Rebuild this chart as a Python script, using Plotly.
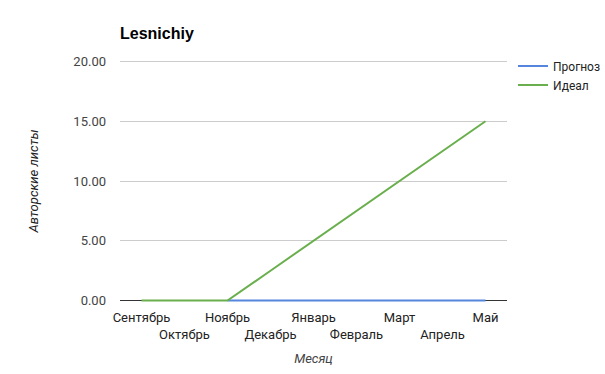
import plotly.graph_objects as go

months = ["Сентябрь", "Октябрь", "Ноябрь", "Декабрь", "Январь", "Февраль", "Март", "Апрель", "Май"]
prognoz = [None, None, 0, 0, 0, 0, 0, 0, 0]
ideal = [0, 0, 0, 2.5, 5, 7.5, 10, 12.5, 15]
y_ticks = [0, 5, 10, 15, 20]

tick_text = [m if i % 2 == 0 else "<br>" + m for i, m in enumerate(months)]

W, H = 605, 374
plot_l, plot_r = 120, 507
y0_px, y20_px = 301, 61
pad_units = 0.2
ppu = (y0_px - y20_px) / 20.0
plot_t = y20_px - pad_units * ppu
plot_b = y0_px + pad_units * ppu

fig = go.Figure()
fig.add_trace(go.Scatter(x=months, y=prognoz, mode="lines", name="Прогноз",
                         line=dict(color="#5585DD", width=2)))
fig.add_trace(go.Scatter(x=months, y=ideal, mode="lines", name="Идеал",
                         line=dict(color="#6AAF4D", width=2)))

fig.update_layout(
    width=W, height=H,
    margin=dict(l=plot_l, r=W - plot_r, t=plot_t, b=H - plot_b, pad=0, autoexpand=False),
    paper_bgcolor="white", plot_bgcolor="white",
    font=dict(family="Roboto, Arial, sans-serif", size=12, color="#444444"),
    title=dict(text="<b>Lesnichiy</b>", x=plot_l / W, xanchor="left", xref="container",
               y=1 - 33 / H, yanchor="middle", yref="container", pad=dict(l=0, r=0, t=0, b=0),
               font=dict(family="Arial, Liberation Sans, sans-serif", size=16, color="#000000")),
    legend=dict(x=(513 - plot_l) / (plot_r - plot_l), xanchor="left",
                y=(plot_b - 51) / (plot_b - plot_t), yanchor="top",
                font=dict(size=12, color="#222222"),
                itemwidth=30, tracegroupgap=0, bgcolor="rgba(0,0,0,0)"),
    showlegend=True,
)
fig.update_xaxes(type="category", categoryorder="array", categoryarray=months,
                 tickmode="array", tickvals=months, ticktext=tick_text, tickangle=0,
                 range=[-0.5, 8.5], showgrid=False, showline=False, ticks="",
                 automargin=False, ticklabelstandoff=5,
                 tickfont=dict(size=13, color="#222222"),
                 title=dict(text="<i>Месяц</i>", font=dict(size=13, color="#444444"), standoff=12))
fig.update_yaxes(range=[-pad_units, 20 + pad_units], tickvals=y_ticks, tickformat=".2f", showgrid=True,
                 gridcolor="#CCCCCC", gridwidth=1, zeroline=True, zerolinecolor="#333333",
                 zerolinewidth=1, showline=False, ticks="", ticklen=0,
                 automargin=False, ticklabelstandoff=13,
                 tickfont=dict(size=13, color="#444444"),
                 title=dict(text="<i>Авторские листы</i>", font=dict(size=13, color="#222222"), standoff=31))

fig.write_html("out.html", config={"displayModeBar": False},
               post_script="document.body.style.margin='0';")
